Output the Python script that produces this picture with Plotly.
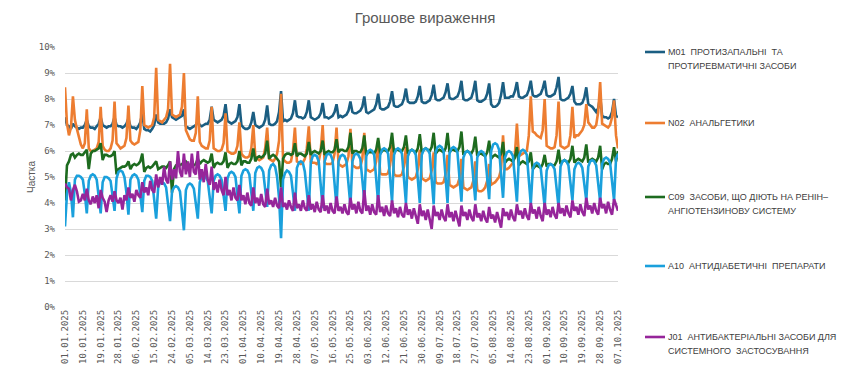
import plotly.graph_objects as go
import pandas as pd

title_text = "Грошове вираження"
y_title = "Частка"

# legend text, one list of lines per series
series_codes = ["M01", "N02", "C09", "A10", "J01"]
series_labels = [
    ["M01  ПРОТИЗАПАЛЬНІ  ТА", "ПРОТИРЕВМАТИЧНІ ЗАСОБИ"],
    ["N02  АНАЛЬГЕТИКИ"],
    ["C09  ЗАСОБИ, ЩО ДІЮТЬ НА РЕНІН–", "АНГІОТЕНЗИНОВУ СИСТЕМУ"],
    ["A10  АНТИДІАБЕТИЧНІ  ПРЕПАРАТИ"],
    ["J01  АНТИБАКТЕРІАЛЬНІ ЗАСОБИ ДЛЯ", "СИСТЕМНОГО  ЗАСТОСУВАННЯ"],
]
series_colors = ["#1B5E82", "#ED7D31", "#1D6B1F", "#1AA0DC", "#96259A"]

start_date = "2025-01-01"

# daily shares, %, one row per week (Mon..Sun); first row starts Wed 01.01.2025
m01 = [
    7.3, 7.0, 6.95, 6.85, 7.05,
    6.95, 6.9, 6.85, 6.9, 6.9, 7.0, 7.2,
    6.95, 6.9, 6.9, 6.85, 6.95, 7.05, 7.3,
    7.0, 6.95, 6.9, 6.95, 6.95, 7.05, 7.3,
    7.0, 6.95, 6.95, 6.9, 6.95, 7.05, 7.25,
    6.95, 6.9, 6.9, 6.85, 6.95, 7.1, 7.45,
    6.85, 6.8, 6.8, 6.75, 6.85, 7.0, 7.4,
    7.1, 7.05, 7.05, 7.05, 7.1, 7.25, 7.6,
    7.3, 7.25, 7.2, 7.25, 7.3, 7.35, 7.6,
    6.95, 6.9, 6.85, 6.9, 6.95, 7.0, 7.15,
    7.0, 6.95, 7.0, 7.05, 7.05, 7.2, 7.7,
    7.2, 7.15, 7.1, 7.15, 7.2, 7.35, 7.8,
    7.15, 7.1, 7.05, 7.1, 7.15, 7.3, 7.8,
    7.0, 6.9, 6.85, 6.85, 6.9, 7.1, 7.5,
    7.0, 6.95, 6.9, 6.95, 7.0, 7.2, 7.75,
    7.05, 7.0, 7.0, 7.05, 7.15, 7.5, 8.3,
    7.15, 7.2, 7.15, 7.2, 7.25, 7.45, 7.95,
    7.35, 7.3, 7.3, 7.25, 7.3, 7.5, 7.95,
    7.3, 7.25, 7.2, 7.25, 7.3, 7.45, 7.85,
    7.3, 7.3, 7.25, 7.3, 7.35, 7.5, 7.8,
    7.3, 7.35, 7.3, 7.35, 7.4, 7.55, 7.9,
    7.5, 7.45, 7.45, 7.5, 7.55, 7.7, 8.1,
    7.5, 7.45, 7.5, 7.55, 7.6, 7.8, 8.2,
    7.65, 7.6, 7.6, 7.65, 7.7, 7.9, 8.3,
    7.75, 7.7, 7.7, 7.75, 7.8, 8.0, 8.4,
    7.9, 7.85, 7.85, 7.85, 7.9, 8.1, 8.5,
    7.9, 7.85, 7.85, 7.9, 7.95, 8.15, 8.55,
    8.0, 7.95, 7.95, 8.0, 8.05, 8.25, 8.6,
    8.05, 8.0, 8.0, 8.05, 8.1, 8.3, 8.7,
    8.0, 7.95, 7.95, 8.0, 8.05, 8.3, 8.7,
    7.95, 7.9, 7.9, 7.95, 8.0, 8.2, 8.6,
    7.8, 7.7, 7.7, 7.75, 7.85, 8.15, 8.65,
    8.05, 8.05, 8.05, 8.1, 8.1, 8.3, 8.65,
    8.1, 8.05, 8.05, 8.1, 8.15, 8.35, 8.7,
    8.15, 8.1, 8.1, 8.15, 8.2, 8.4, 8.7,
    8.15, 8.1, 8.1, 8.15, 8.2, 8.45, 8.85,
    8.0, 7.95, 7.95, 8.0, 8.05, 8.2, 8.5,
    7.9, 7.8, 7.8, 7.8, 7.85, 8.05, 8.45,
    7.8, 7.75, 7.7, 7.6, 7.5, 7.65, 8.1,
    7.35, 7.3, 7.3, 7.25, 7.3, 7.5, 8.0,
    7.35, 7.3,
]

n02 = [
    8.45, 7.05, 6.6, 6.9, 8.1,
    7.2, 6.85, 6.5, 6.25, 6.1, 6.3, 7.6,
    6.1, 6.0, 6.0, 6.05, 6.1, 6.35, 7.7,
    6.2, 6.05, 6.0, 6.0, 6.1, 6.4, 7.9,
    6.3, 6.2, 6.1, 6.15, 6.2, 6.5, 7.75,
    6.4, 6.3, 6.25, 6.3, 6.35, 6.8, 8.5,
    7.0, 6.95, 6.9, 6.95, 7.0, 7.3, 9.2,
    7.2, 7.15, 7.1, 7.2, 7.3, 7.6, 9.35,
    7.4, 7.35, 7.3, 7.35, 7.4, 7.7, 9.0,
    6.8, 6.6, 6.45, 6.4, 6.4, 6.7, 8.1,
    6.35, 6.2, 6.15, 6.1, 6.1, 6.4, 7.7,
    6.1, 6.05, 6.0, 6.0, 6.05, 6.3, 7.45,
    6.0, 5.95, 5.9, 5.9, 5.95, 6.2, 7.1,
    5.9, 5.8, 5.75, 5.75, 5.8, 6.1, 7.0,
    5.8, 5.7, 5.65, 5.7, 5.75, 6.1, 6.9,
    5.7, 5.65, 5.6, 5.7, 5.9, 6.4, 8.2,
    5.7, 5.6, 5.55, 5.55, 5.6, 6.0, 6.9,
    5.6, 5.55, 5.5, 5.55, 5.7, 6.1, 6.95,
    5.6, 5.55, 5.55, 5.5, 5.6, 6.0, 7.0,
    5.55, 5.5, 5.5, 5.5, 5.55, 5.9, 6.9,
    5.5, 5.45, 5.4, 5.45, 5.5, 5.8, 6.85,
    5.45, 5.4, 5.35, 5.35, 5.4, 5.7, 6.7,
    5.3, 5.25, 5.2, 5.25, 5.3, 5.6, 6.4,
    5.15, 5.1, 5.1, 5.1, 5.15, 5.45, 6.25,
    5.1, 5.05, 5.05, 5.05, 5.1, 5.4, 6.15,
    5.0, 4.95, 4.9, 4.95, 5.0, 5.3, 6.05,
    4.95, 4.9, 4.85, 4.9, 4.95, 5.25, 5.95,
    4.8, 4.75, 4.75, 4.75, 4.8, 5.1, 5.85,
    4.7, 4.65, 4.6, 4.65, 4.7, 4.95, 5.7,
    4.6, 4.55, 4.5, 4.55, 4.6, 4.85, 5.6,
    4.5, 4.45, 4.45, 4.5, 4.6, 4.85, 5.5,
    4.7, 4.75, 4.8, 4.9, 5.0, 5.3, 6.6,
    5.3, 5.3, 5.35, 5.45, 5.55, 5.9, 7.05,
    5.8, 5.85, 5.9, 5.95, 6.0, 6.6, 8.1,
    6.75, 6.7, 6.6, 6.55, 6.5, 6.8, 8.0,
    6.2, 6.15, 6.1, 6.1, 6.15, 6.6, 7.9,
    6.2, 6.15, 6.1, 6.15, 6.2, 6.6, 7.7,
    6.5, 6.6, 6.6, 6.7, 6.8, 7.0, 7.8,
    7.1, 7.0, 6.9, 6.9, 7.0, 7.5, 8.65,
    7.05, 7.0, 6.95, 6.9, 7.0, 7.3, 7.95,
    6.6, 6.1,
]

c09 = [
    4.1, 5.45, 5.6, 5.85, 5.9,
    5.75, 5.85, 5.9, 5.85, 5.85, 5.95, 6.05,
    5.3, 5.9, 6.0, 6.0, 6.05, 6.1, 6.3,
    5.65, 5.85, 5.85, 5.8, 5.8, 5.85, 6.0,
    5.1, 5.3, 5.35, 5.4, 5.4, 5.45, 5.6,
    5.3, 5.45, 5.5, 5.45, 5.5, 5.6, 5.9,
    5.2, 5.35, 5.4, 5.35, 5.4, 5.5, 5.6,
    5.3, 5.35, 5.4, 5.4, 5.35, 5.45, 5.6,
    4.4, 5.3, 5.45, 5.5, 5.45, 5.5, 5.55,
    5.6, 5.5, 5.45, 5.5, 5.45, 5.5, 5.7,
    5.5, 5.6, 5.65, 5.6, 5.55, 5.6, 5.9,
    5.35, 5.5, 5.55, 5.5, 5.5, 5.6, 5.95,
    5.35, 5.5, 5.55, 5.5, 5.5, 5.6, 6.0,
    5.45, 5.6, 5.6, 5.55, 5.55, 5.7, 6.1,
    5.6, 5.75, 5.8, 5.75, 5.8, 5.9, 6.4,
    5.7, 5.8, 5.85, 5.8, 5.7, 5.6, 4.6,
    5.7, 5.85, 5.9, 5.9, 5.85, 5.9, 6.3,
    5.8, 5.9, 5.9, 5.85, 5.8, 5.9, 6.35,
    5.85, 5.95, 6.0, 5.95, 5.9, 6.0, 6.4,
    5.85, 5.95, 6.0, 5.95, 5.95, 6.05, 6.45,
    5.95, 6.05, 6.05, 6.0, 6.0, 6.15, 6.7,
    5.9, 6.0, 6.0, 5.95, 5.95, 6.1, 6.6,
    5.85, 5.95, 5.95, 5.95, 5.9, 6.05, 6.5,
    5.9, 6.0, 6.05, 6.0, 6.0, 6.15, 6.7,
    5.95, 6.05, 6.05, 6.0, 6.0, 6.15, 6.6,
    5.9, 6.0, 6.05, 6.0, 5.95, 6.1, 6.65,
    5.95, 6.05, 6.1, 6.05, 6.0, 6.15, 6.7,
    5.9, 6.0, 6.05, 6.0, 5.95, 6.1, 6.7,
    5.95, 6.05, 6.05, 6.0, 6.0, 6.15, 6.75,
    5.85, 5.95, 6.0, 5.95, 5.9, 6.05, 6.55,
    5.8, 5.9, 5.9, 5.85, 5.8, 5.95, 6.4,
    5.7, 5.8, 5.85, 5.8, 5.75, 5.9, 6.35,
    5.55, 5.65, 5.7, 5.65, 5.6, 5.75, 6.15,
    5.45, 5.55, 5.6, 5.55, 5.5, 5.6, 5.95,
    5.3, 5.4, 5.45, 5.4, 5.35, 5.5, 5.85,
    5.4, 5.5, 5.5, 5.45, 5.45, 5.6, 6.05,
    5.5, 5.6, 5.65, 5.6, 5.55, 5.7, 6.2,
    5.55, 5.65, 5.7, 5.65, 5.6, 5.75, 6.25,
    5.55, 5.65, 5.7, 5.65, 5.6, 5.75, 6.2,
    5.3, 5.5, 5.55, 5.5, 5.5, 5.7, 6.15,
    5.6, 6.0,
]

a10 = [
    3.1, 4.35, 4.8, 4.4, 3.45,
    4.9, 5.05, 5.05, 5.0, 4.9, 4.35, 3.6,
    4.85, 5.05, 5.1, 5.05, 4.9, 4.3, 3.6,
    4.8, 5.0, 5.0, 4.95, 4.85, 4.3, 3.7,
    4.95, 5.2, 5.25, 5.2, 5.0, 4.4, 3.55,
    4.9, 5.05, 5.1, 5.05, 4.9, 4.3, 3.65,
    4.85, 5.05, 5.05, 5.0, 4.85, 4.2, 3.4,
    4.6, 4.8, 4.8, 4.75, 4.6, 4.0, 3.3,
    4.45, 4.6, 4.65, 4.6, 4.45, 3.8, 2.95,
    4.5, 4.7, 4.75, 4.7, 4.55, 4.0, 3.4,
    4.8, 5.0, 5.05, 5.0, 4.85, 4.2, 3.6,
    4.85, 5.05, 5.1, 5.05, 4.9, 4.3, 3.7,
    4.95, 5.15, 5.2, 5.15, 5.0, 4.35, 3.6,
    5.05, 5.25, 5.3, 5.25, 5.1, 4.45, 3.7,
    5.15, 5.35, 5.4, 5.35, 5.2, 4.5, 3.85,
    5.25, 5.45, 5.5, 5.4, 5.0, 4.2, 2.65,
    4.9, 5.15, 5.25, 5.2, 5.05, 4.4, 3.7,
    5.35, 5.55, 5.6, 5.55, 5.2, 4.5, 3.7,
    5.55, 5.8, 5.85, 5.8, 5.6, 4.7, 3.8,
    5.6, 5.85, 5.9, 5.85, 5.65, 4.75, 3.85,
    5.6, 5.8, 5.85, 5.8, 5.6, 4.75, 3.9,
    5.6, 5.85, 5.9, 5.85, 5.7, 4.9, 4.1,
    5.8, 6.0, 6.05, 6.0, 5.85, 4.9, 4.0,
    5.85, 6.05, 6.1, 6.05, 5.9, 4.95, 4.05,
    5.85, 6.05, 6.1, 6.05, 5.9, 4.9, 4.0,
    5.8, 6.0, 6.05, 6.0, 5.85, 4.9, 4.0,
    5.85, 6.05, 6.1, 6.05, 5.9, 4.9, 3.95,
    5.95, 6.15, 6.2, 6.15, 6.0, 5.0, 4.0,
    5.9, 6.1, 6.15, 6.1, 5.95, 4.95, 4.05,
    5.75, 5.95, 6.0, 5.95, 5.8, 4.9, 4.1,
    5.75, 5.95, 6.0, 5.95, 5.8, 4.9, 4.15,
    6.0, 6.25, 6.3, 6.25, 6.05, 5.05, 4.2,
    5.75, 5.95, 6.0, 5.95, 5.8, 4.85, 4.05,
    5.8, 6.0, 6.05, 6.0, 5.85, 4.8, 3.95,
    5.3, 5.5, 5.55, 5.5, 5.35, 4.6, 3.85,
    5.25, 5.45, 5.5, 5.45, 5.3, 4.55, 3.85,
    5.4, 5.6, 5.65, 5.6, 5.45, 4.75, 4.1,
    5.3, 5.5, 5.55, 5.5, 5.35, 4.7, 4.1,
    5.4, 5.6, 5.65, 5.6, 5.45, 4.75, 4.05,
    5.5, 5.7, 5.75, 5.7, 5.55, 4.8, 4.1,
    5.7, 5.9,
]

j01 = [
    4.75, 4.6, 4.55, 4.1, 4.5,
    4.7, 4.45, 4.05, 4.1, 4.35, 4.1, 4.55,
    4.1, 3.95, 4.25, 4.0, 4.3, 3.8, 4.5,
    4.2, 4.05, 3.65, 4.1, 4.3, 4.05, 4.45,
    4.1, 4.0, 4.2, 3.75, 4.3, 4.1, 4.6,
    4.2, 4.35, 4.05, 4.5, 4.3, 4.2, 4.8,
    4.4, 4.6, 4.3, 4.85, 4.5, 4.4, 5.1,
    4.6, 5.0, 4.7, 5.4, 4.9, 4.75, 5.6,
    4.9, 5.3, 4.95, 6.0, 5.2, 5.0, 5.9,
    5.1, 5.6, 5.0, 5.9, 5.2, 5.1, 6.0,
    4.9, 5.3, 4.8, 5.5, 4.9, 4.7, 5.4,
    4.5, 4.8, 4.4, 4.9, 4.5, 4.3, 5.0,
    4.3, 4.5, 4.1, 4.6, 4.2, 4.1, 4.7,
    4.1, 4.3, 3.95, 4.4, 4.0, 3.9, 4.6,
    4.0, 4.2, 3.9, 4.35, 3.95, 3.85, 4.55,
    3.95, 4.1, 3.85, 4.2, 3.9, 3.8, 4.6,
    3.85, 4.0, 3.75, 4.1, 3.85, 3.7, 4.4,
    3.8, 3.95, 3.7, 4.1, 3.8, 3.7, 4.3,
    3.75, 3.95, 3.65, 4.05, 3.75, 3.65, 4.3,
    3.7, 3.9, 3.6, 4.0, 3.7, 3.6, 4.25,
    3.7, 3.85, 3.6, 3.95, 3.65, 3.55, 4.2,
    3.75, 3.95, 3.6, 4.05, 3.7, 3.6, 4.5,
    3.7, 3.9, 3.55, 3.95, 3.65, 3.55, 4.3,
    3.65, 3.85, 3.5, 3.9, 3.6, 3.5, 4.1,
    3.6, 3.8, 3.45, 3.85, 3.55, 3.45, 4.0,
    3.55, 3.75, 3.4, 3.8, 3.5, 3.2, 3.95,
    3.5, 3.7, 3.35, 3.75, 3.4, 3.0, 3.9,
    3.5, 3.65, 3.35, 3.75, 3.45, 3.3, 3.95,
    3.45, 3.65, 3.3, 3.7, 3.4, 3.1, 3.9,
    3.5, 3.65, 3.35, 3.75, 3.45, 3.3, 3.95,
    3.45, 3.6, 3.3, 3.7, 3.4, 3.25, 3.85,
    3.4, 3.55, 3.25, 3.65, 3.35, 3.05, 3.8,
    3.5, 3.65, 3.35, 3.75, 3.45, 3.3, 3.95,
    3.55, 3.7, 3.4, 3.8, 3.5, 3.35, 4.0,
    3.6, 3.75, 3.4, 3.85, 3.5, 3.3, 4.0,
    3.55, 3.75, 3.45, 3.85, 3.55, 3.4, 4.0,
    3.6, 3.8, 3.5, 3.9, 3.6, 3.45, 4.1,
    3.7, 3.85, 3.55, 3.95, 3.65, 3.5, 4.2,
    3.75, 3.9, 3.6, 4.0, 3.7, 3.55, 4.2,
    3.8, 3.95, 3.6, 4.05, 3.75, 3.55, 4.15,
    3.9, 3.7,
]

y_tick_values = [0, 1, 2, 3, 4, 5, 6, 7, 8, 9, 10]
y_tick_labels = ["0%", "1%", "2%", "3%", "4%", "5%", "6%", "7%", "8%", "9%", "10%"]
x_tick_step = 9

all_series = [m01, n02, c09, a10, j01]
dates = [d.strftime("%d.%m.%Y") for d in pd.date_range(start_date, periods=len(m01), freq="D")]

# page offset of the figure inside the browser page (default body margin)
OFF = 8
W, H = 850, 378
# plot area on screen: x 65..618, y 47..307
ML, MT = 65 - OFF, 47 - OFF
MR, MB = W - (618 - OFF), H - (307 - OFF)
PW, PH = W - ML - MR, H - MT - MB


def px_x(sx):
    return (sx - OFF - ML) / PW


def px_y(sy):
    return (H - MB - (sy - OFF)) / PH


fig = go.Figure()
for code, col, vals in zip(series_codes, series_colors, all_series):
    fig.add_trace(go.Scatter(
        x=dates, y=vals, mode="lines", name=code, showlegend=False,
        line=dict(color=col, width=2.6),
    ))

# legend drawn at the right side: sample line + text lines
legend_first_line_px = [52, 123, 197, 266, 337]
legend_line_gap_px = 14
shapes, annotations = [], []
for lines, col, ly in zip(series_labels, series_colors, legend_first_line_px):
    shapes.append(dict(type="line", xref="paper", yref="paper",
                       x0=px_x(645), x1=px_x(665), y0=px_y(ly), y1=px_y(ly),
                       line=dict(color=col, width=2.6)))
    for k, txt in enumerate(lines):
        annotations.append(dict(text=txt, xref="paper", yref="paper",
                                x=px_x(666), y=px_y(ly + k * legend_line_gap_px),
                                xanchor="left", yanchor="middle", showarrow=False,
                                font=dict(family="Liberation Sans", size=9, color="#404040")))

fig.update_layout(
    width=W, height=H,
    margin=dict(l=ML, r=MR, t=MT, b=MB),
    paper_bgcolor="white", plot_bgcolor="white",
    title=dict(text=title_text, x=(425 - OFF) / W, xanchor="center", y=1 - (18 - OFF) / H, yanchor="middle",
               font=dict(family="Liberation Sans", size=15, color="#595959")),
    showlegend=False,
    shapes=shapes, annotations=annotations,
    font=dict(family="DejaVu Sans Mono", color="#595959"),
)
fig.update_xaxes(
    type="category", range=[0, len(dates) - 1], automargin=False,
    tickmode="array", tickvals=dates[::x_tick_step], ticktext=dates[::x_tick_step],
    tickangle=-90, tickfont=dict(family="DejaVu Sans Mono", size=9, color="#595959"),
    showgrid=False, showline=False, ticks="", zeroline=False,
)
fig.update_yaxes(
    range=[0, 10], automargin=False, tickmode="array", tickvals=y_tick_values, ticktext=y_tick_labels,
    tickfont=dict(family="DejaVu Sans Mono", size=9, color="#595959"),
    showgrid=True, gridcolor="#D9D9D9", gridwidth=1, zeroline=False, showline=False,
    ticks="", ticklabelstandoff=9,
    title=dict(text=y_title, font=dict(family="Liberation Sans", size=10, color="#595959"), standoff=1),
)
fig.write_html("out.html")
